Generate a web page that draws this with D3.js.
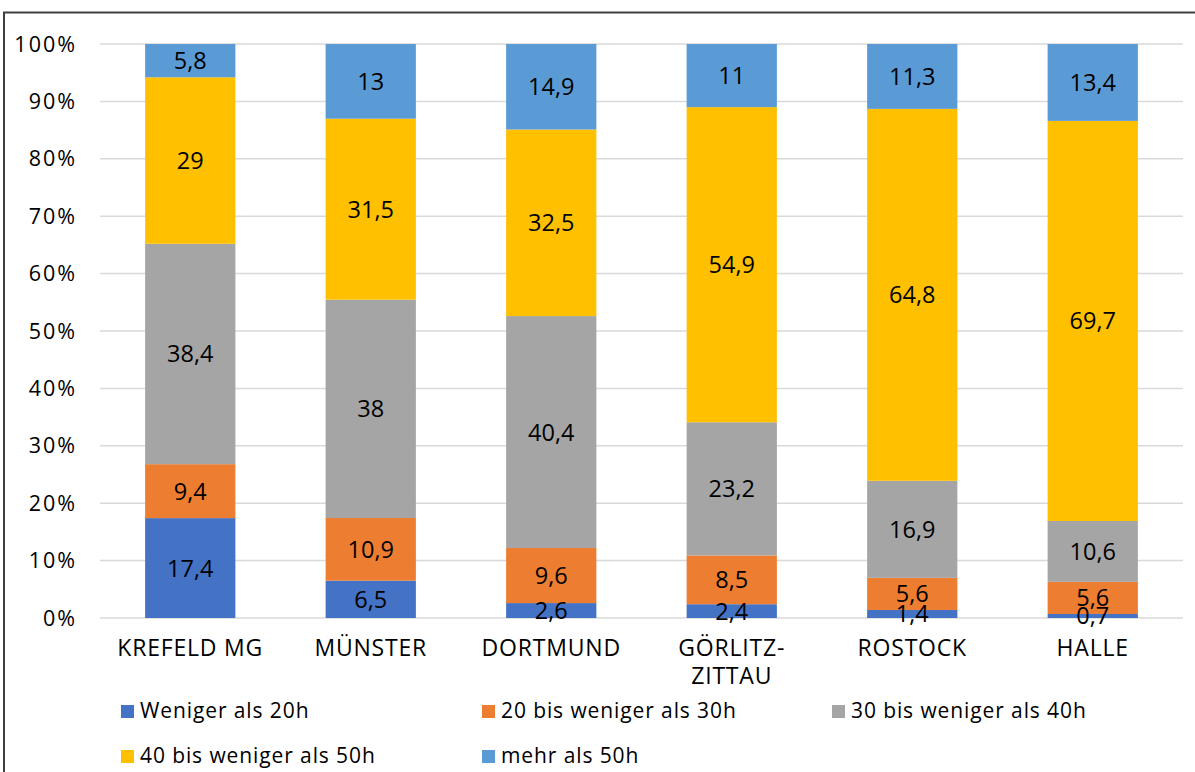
<!DOCTYPE html>
<html>
<head>
<meta charset="utf-8">
<script src="https://cdn.jsdelivr.net/npm/d3@7"></script>
<style>
  body { margin: 0; background: #fff; }
  svg text { font-family: "Open Sans", sans-serif; fill: #000; }
</style>
</head>
<body>
<svg id="chart" width="1195" height="772"></svg>
<script>
const categories = ['KREFELD MG', 'MÜNSTER', 'DORTMUND', 'GÖRLITZ-\nZITTAU', 'ROSTOCK', 'HALLE'];
const seriesNames = ['Weniger als 20h', '20 bis weniger als 30h', '30 bis weniger als 40h', '40 bis weniger als 50h', 'mehr als 50h'];
const under20 = [17.4, 6.5, 2.6, 2.4, 1.4, 0.7];
const from20to30 = [9.4, 10.9, 9.6, 8.5, 5.6, 5.6];
const from30to40 = [38.4, 38, 40.4, 23.2, 16.9, 10.6];
const from40to50 = [29, 31.5, 32.5, 54.9, 64.8, 69.7];
const over50 = [5.8, 13, 14.9, 11, 11.3, 13.4];
const yTicks = [0, 10, 20, 30, 40, 50, 60, 70, 80, 90, 100];
const colors = ['#4472C4', '#ED7D31', '#A5A5A5', '#FFC000', '#5B9BD5'];

const svg = d3.select('#chart');
const keys = ['s0', 's1', 's2', 's3', 's4'];
const allSeries = [under20, from20to30, from30to40, from40to50, over50];
const rows = categories.map((c, i) => {
  const row = { cat: c };
  const tot = d3.sum(allSeries, s => s[i]);
  keys.forEach((k, j) => { row[k] = allSeries[j][i] / tot * 100; row[k + 'raw'] = allSeries[j][i]; });
  return row;
});

// outer frame
svg.append('path').attr('d', 'M4,1000 V12.5 H1300').attr('fill', 'none').attr('stroke', '#404040').attr('stroke-width', 2);

const x = d3.scaleBand().domain(categories).range([100, 1183]).paddingInner(0.5).paddingOuter(0.25);
const y = d3.scaleLinear().domain([0, 100]).range([618, 44]);

svg.append('g').selectAll('line').data(yTicks).enter().append('line')
  .attr('x1', 100).attr('x2', 1183).attr('y1', d => y(d)).attr('y2', d => y(d))
  .attr('stroke', '#d9d9d9').attr('stroke-width', 1.5);

svg.append('g').selectAll('text').data(yTicks).enter().append('text')
  .attr('x', 77).attr('y', d => y(d) + 7.5).attr('text-anchor', 'end').attr('font-size', 21.5)
  .attr('letter-spacing', 2)
  .text(d => d + '%');

const stack = d3.stack().keys(keys)(rows);
const layers = svg.append('g').selectAll('g').data(stack).enter().append('g')
  .attr('fill', (d, i) => colors[i]);
layers.selectAll('rect').data(d => d).enter().append('rect')
  .attr('x', d => x(d.data.cat)).attr('width', x.bandwidth())
  .attr('y', d => y(d[1])).attr('height', d => y(d[0]) - y(d[1]));

const labels = svg.append('g');
stack.forEach((layer, j) => {
  labels.selectAll(null).data(layer).enter().append('text')
    .attr('x', d => x(d.data.cat) + x.bandwidth() / 2)
    .attr('y', d => (y(d[0]) + y(d[1])) / 2 + 8.5)
    .attr('text-anchor', 'middle').attr('font-size', 23.5)
    .text(d => String(d.data[keys[j] + 'raw']).replace('.', ','));
});

const catText = svg.append('g').selectAll('text').data(categories).enter().append('text')
  .attr('x', d => x(d) + x.bandwidth() / 2).attr('y', 656)
  .attr('text-anchor', 'middle').attr('font-size', 23).attr('letter-spacing', 0.8);
catText.selectAll('tspan').data(d => d.split('\n')).enter().append('tspan')
  .attr('x', function() { return d3.select(this.parentNode).attr('x'); })
  .attr('dy', (d, i) => i === 0 ? 0 : 28).text(d => d);

const legendPos = [[121, 718], [482, 718], [832, 718], [121, 763], [482, 763]];
const legend = svg.append('g').selectAll('g').data(seriesNames).enter().append('g')
  .attr('transform', (d, i) => `translate(${legendPos[i][0]},${legendPos[i][1]})`);
legend.append('rect').attr('x', 0).attr('y', -13).attr('width', 13).attr('height', 13).attr('fill', (d, i) => colors[i]);
legend.append('text').attr('x', 19).attr('y', 0).attr('font-size', 21).attr('letter-spacing', 0.9).text(d => d);
</script>
</body>
</html>
